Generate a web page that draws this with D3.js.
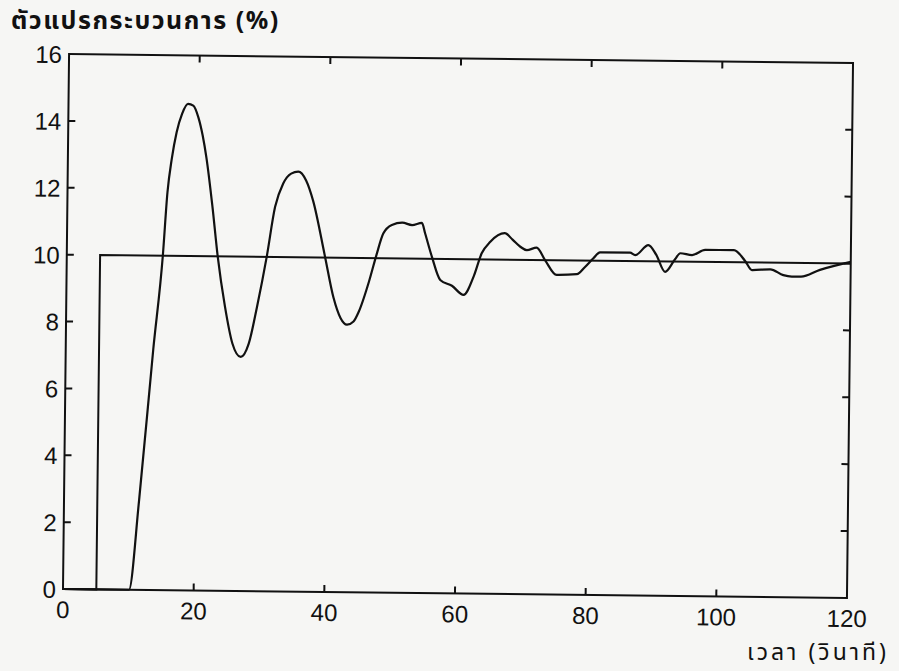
<!DOCTYPE html>
<html>
<head>
<meta charset="utf-8">
<script src="https://cdn.jsdelivr.net/npm/d3@7"></script>
<style>
  body { margin: 0; background: #f6f6f4; }
  svg { display: block; }
</style>
</head>
<body>
<script>
// response of the process variable
const time = [0, 10.1, 11.5, 13.4, 14.7, 15.3, 15.9, 16.6, 17.4, 18.3, 19.1, 19.9, 20.6, 21.2, 22.2, 23.1,
  24.3, 25.5, 26.8, 28.0, 29.2, 30.6, 31.8, 33.0, 34.2, 35.3, 36.5, 37.6, 39.5, 40.9, 42.0, 43.0, 44.0,
  44.8, 46.3, 47.4, 48.4, 49.7, 51.3, 52.8, 54.3, 54.8, 55.9, 57.2, 59.0, 60.8, 62.3, 63.5, 64.8, 67.0,
  68.2, 69.4, 70.4, 71.9, 73.2, 75.0, 78.1, 79.3, 80.6, 81.6, 86.2, 87.0, 89.0, 90.2, 91.6, 93.1, 93.9,
  95.7, 97.7, 102.1, 103.8, 104.9, 107.7, 109.7, 111.0, 112.4, 115.3, 120];
const pv = [0, 0, 2.7, 7.2, 10.0, 11.9, 12.9, 13.7, 14.25, 14.55, 14.5, 14.15, 13.6, 12.95, 11.5, 10.0,
  8.5, 7.4, 7.0, 7.4, 8.5, 10.0, 11.5, 12.2, 12.5, 12.56, 12.3, 11.7, 10.05, 8.8, 8.2, 8.0, 8.1,
  8.4, 9.3, 10.1, 10.74, 11.0, 11.07, 11.0, 11.07, 10.76, 10.05, 9.37, 9.2, 8.93, 9.48, 10.18, 10.53, 10.79,
  10.6, 10.39, 10.29, 10.37, 10.0, 9.56, 9.59, 9.8, 10.07, 10.25, 10.25, 10.18, 10.48, 10.2, 9.69, 10.07, 10.25,
  10.2, 10.36, 10.36, 10.05, 9.77, 9.8, 9.63, 9.59, 9.59, 9.8, 10.05];

// set point step
const spTime = [0, 5.1, 5.1, 120];
const spValue = [0, 0, 10, 10];

const xTicks = [0, 20, 40, 60, 80, 100, 120];
const yTicks = [0, 2, 4, 6, 8, 10, 12, 14, 16];
const yTitle = "ตัวแปรกระบวนการ (%)";
const xTitle = "เวลา (วินาที)";

const width = 899;
const height = 671;
const plotW = 784;
const plotH = 535;
const tilt = 0.65; // the scan is a little rotated

const svg = d3.select("body").append("svg")
  .attr("width", width)
  .attr("height", height);

const x = d3.scaleLinear().domain([0, 120]).range([0, plotW]);
const y = d3.scaleLinear().domain([0, 16]).range([0, -plotH]);

const numFont = "'Liberation Sans', Arial, sans-serif";
const thaiFont = "'Noto Sans Thai', 'Noto Sans Thai UI', 'Loma', 'Garuda', 'Noto Sans', sans-serif";

const g = svg.append("g")
  .attr("transform", `translate(63,589) rotate(${tilt})`);

// frame
g.append("rect")
  .attr("x", 0)
  .attr("y", -plotH)
  .attr("width", plotW)
  .attr("height", plotH)
  .attr("fill", "none")
  .attr("stroke", "#111")
  .attr("stroke-width", 2);

// ticks pointing inwards on all four sides
const tick = 7;
g.append("g").selectAll("line")
  .data(xTicks.slice(1, -1))
  .join("line")
  .attr("x1", (d) => x(d)).attr("x2", (d) => x(d))
  .attr("y1", 0).attr("y2", -tick)
  .attr("stroke", "#111").attr("stroke-width", 2);
g.append("g").selectAll("line")
  .data(xTicks.slice(1, -1))
  .join("line")
  .attr("x1", (d) => x(d)).attr("x2", (d) => x(d))
  .attr("y1", -plotH).attr("y2", -plotH + tick)
  .attr("stroke", "#111").attr("stroke-width", 2);
g.append("g").selectAll("line")
  .data(yTicks.slice(1, -1))
  .join("line")
  .attr("x1", 0).attr("x2", tick)
  .attr("y1", (d) => y(d)).attr("y2", (d) => y(d))
  .attr("stroke", "#111").attr("stroke-width", 2);
g.append("g").selectAll("line")
  .data(yTicks.slice(1, -1))
  .join("line")
  .attr("x1", plotW).attr("x2", plotW - tick)
  .attr("y1", (d) => y(d)).attr("y2", (d) => y(d))
  .attr("stroke", "#111").attr("stroke-width", 2);

// tick labels
g.append("g").selectAll("text")
  .data(xTicks)
  .join("text")
  .attr("x", (d) => x(d))
  .attr("y", 29)
  .attr("text-anchor", "middle")
  .attr("font-family", numFont)
  .attr("font-size", 24)
  .attr("fill", "#111")
  .text((d) => d);
g.append("g").selectAll("text")
  .data(yTicks)
  .join("text")
  .attr("x", -7)
  .attr("y", (d) => y(d) + 9)
  .attr("text-anchor", "end")
  .attr("font-family", numFont)
  .attr("font-size", 24)
  .attr("fill", "#111")
  .text((d) => d);

// lines
const line = d3.line()
  .x((d) => x(d[0]))
  .y((d) => y(d[1]));

g.append("path")
  .datum(d3.zip(spTime, spValue))
  .attr("d", line)
  .attr("fill", "none")
  .attr("stroke", "#111")
  .attr("stroke-width", 2);

g.append("path")
  .datum(d3.zip(time, pv))
  .attr("d", line.curve(d3.curveMonotoneX))
  .attr("fill", "none")
  .attr("stroke", "#111")
  .attr("stroke-width", 2.2);

// axis titles
svg.append("text")
  .attr("x", 11)
  .attr("y", 29)
  .attr("font-family", thaiFont)
  .attr("font-size", 25)
  .attr("font-weight", "bold")
  .attr("letter-spacing", 1.5)
  .attr("fill", "#111")
  .text(yTitle);

svg.append("text")
  .attr("x", 889)
  .attr("y", 660)
  .attr("text-anchor", "end")
  .attr("font-family", thaiFont)
  .attr("font-size", 23)
  .attr("letter-spacing", 3)
  .attr("fill", "#111")
  .text(xTitle);
</script>
</body>
</html>
